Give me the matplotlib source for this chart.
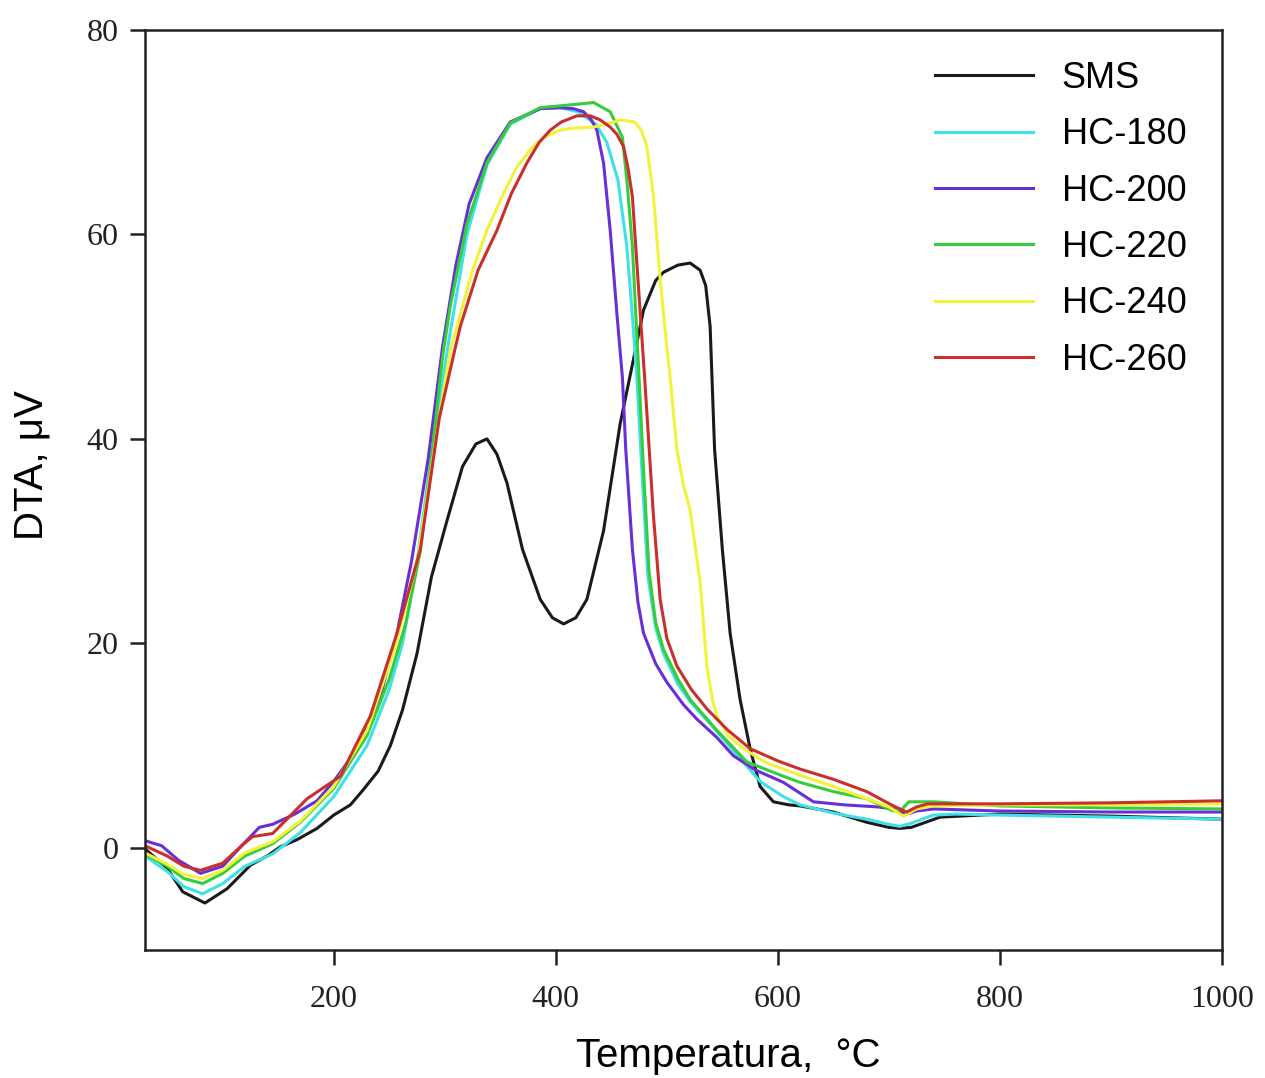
"""DTA curves of SMS and hydrochars (HC-180 ... HC-260)."""
import matplotlib
matplotlib.use("Agg")
import matplotlib.pyplot as plt

# SMS (black)
t_sms = [30, 50, 64, 84, 104, 125, 140, 152, 167, 185, 200, 215, 226, 240, 251, 262,
         275, 288, 302, 316, 328, 338, 347, 356, 370, 386, 397, 407, 418, 428, 443,
         458, 470, 479, 490, 497, 510, 521, 530, 535, 539, 543, 550, 557, 566, 575,
         584, 596, 610, 620, 650, 680, 700, 710, 720, 728, 746, 800, 900, 1000]
y_sms = [-0.1, -2.0, -4.3, -5.4, -4.0, -1.7, -0.8, 0.1, 0.8, 1.9, 3.2, 4.2, 5.6, 7.5,
         10.0, 13.5, 19.0, 26.5, 32.0, 37.3, 39.5, 40.0, 38.5, 35.7, 29.2, 24.3, 22.5,
         21.9, 22.5, 24.3, 31.0, 41.5, 47.8, 52.6, 55.5, 56.3, 57.0, 57.2, 56.5, 55.0,
         51.0, 39.0, 29.2, 21.0, 14.5, 9.7, 6.0, 4.5, 4.2, 4.1, 3.5, 2.5, 2.0, 1.9,
         2.0, 2.3, 3.0, 3.3, 3.1, 2.8]

# HC-180 (cyan)
t_180 = [30, 50, 65, 82, 100, 120, 145, 170, 200, 230, 250, 262, 275, 290, 305, 320,
         338, 359, 386, 404, 420, 436, 446, 456, 464, 469, 473, 478, 483, 490, 497,
         510, 521, 540, 560, 584, 605, 620, 650, 680, 700, 710, 720, 740, 760, 800,
         900, 1000]
y_180 = [-0.8, -2.3, -3.8, -4.5, -3.5, -1.8, -0.6, 1.5, 5.0, 10.0, 15.5, 20.0, 28.0,
         40.0, 50.5, 60.0, 66.8, 70.8, 72.3, 72.4, 72.0, 70.8, 69.0, 65.3, 58.8, 52.0,
         46.0, 36.0, 26.5, 21.5, 19.0, 16.0, 14.3, 12.0, 9.5, 6.5, 5.0, 4.2, 3.4, 2.8,
         2.3, 2.1, 2.4, 3.2, 3.3, 3.2, 3.0, 2.8]

# HC-200 (purple)
t_200 = [30, 45, 60, 80, 100, 118, 133, 145, 165, 185, 200, 220, 240, 257, 270, 285,
         298, 310, 322, 338, 359, 386, 404, 416, 425, 432, 437, 443, 449, 455, 460,
         463, 469, 474, 479, 490, 500, 515, 527, 545, 560, 580, 605, 632, 660, 690,
         705, 716, 725, 740, 800, 900, 1000]
y_200 = [0.7, 0.2, -1.2, -2.5, -1.8, 0.3, 2.0, 2.3, 3.3, 4.6, 6.5, 9.5, 14.0, 21.0,
         28.0, 38.0, 49.0, 57.0, 63.0, 67.5, 71.0, 72.3, 72.4, 72.3, 72.0, 71.2, 70.2,
         67.0, 60.4, 52.3, 46.0, 39.0, 29.2, 24.0, 21.0, 18.0, 16.2, 14.0, 12.6, 10.8,
         9.0, 7.6, 6.4, 4.5, 4.2, 4.0, 3.8, 3.3, 3.6, 3.8, 3.6, 3.5, 3.5]

# HC-220 (green)
t_220 = [30, 50, 65, 82, 100, 120, 145, 170, 200, 230, 250, 265, 278, 290, 298, 305,
         320, 338, 359, 386, 416, 434, 449, 460, 464, 469, 472, 475, 479, 484, 490,
         497, 510, 521, 545, 572, 605, 620, 650, 680, 704, 712, 718, 740, 800, 900,
         1000]
y_220 = [-0.6, -1.8, -3.0, -3.5, -2.5, -0.8, 0.4, 2.5, 5.8, 11.0, 16.5, 22.0, 29.0,
         40.0, 48.0, 53.0, 61.0, 67.0, 70.9, 72.4, 72.7, 72.9, 72.0, 69.5, 65.3, 58.8,
         52.3, 46.0, 37.0, 27.0, 22.0, 19.4, 16.5, 14.5, 11.5, 8.4, 7.0, 6.4, 5.5, 4.8,
         3.6, 3.8, 4.5, 4.5, 4.1, 3.9, 3.8]

# HC-240 (yellow)
t_240 = [30, 50, 65, 82, 100, 120, 145, 170, 200, 230, 255, 276, 292, 305, 311, 325,
         338, 352, 365, 378, 389, 404, 416, 434, 446, 458, 471, 477, 482, 488, 494,
         500, 503, 509, 515, 521, 530, 536, 541, 545, 555, 569, 590, 620, 650, 680,
         700, 713, 725, 740, 800, 900, 1000]
y_240 = [-0.5, -1.6, -2.6, -3.0, -2.2, -0.5, 0.6, 2.6, 6.0, 11.5, 19.5, 28.5, 40.0,
         48.7, 51.0, 56.5, 60.4, 63.8, 66.6, 68.4, 69.5, 70.2, 70.4, 70.5, 70.8, 71.2,
         71.0, 70.2, 68.6, 63.7, 55.6, 49.0, 46.0, 39.0, 35.5, 33.0, 26.0, 17.8, 14.5,
         12.9, 11.0, 9.7, 8.3, 7.1, 6.0, 4.8, 4.0, 3.1, 3.8, 4.1, 4.2, 4.2, 4.3]

# HC-260 (red)
t_260 = [30, 50, 65, 80, 100, 118, 127, 145, 176, 206, 233, 257, 278, 295, 309, 314,
         330, 347, 360, 374, 385, 395, 405, 419, 431, 440, 449, 455, 461, 465, 469,
         474, 480, 488, 494, 500, 509, 522, 536, 555, 575, 600, 620, 650, 680, 704,
         716, 725, 735, 800, 900, 1000]
y_260 = [0.2, -0.8, -1.8, -2.2, -1.5, 0.3, 1.1, 1.4, 4.8, 7.0, 12.9, 21.0, 29.2, 42.0,
         48.7, 51.0, 56.5, 60.4, 64.0, 67.0, 69.0, 70.2, 71.0, 71.6, 71.6, 71.2, 70.5,
         69.8, 68.6, 66.5, 63.7, 55.6, 46.0, 32.4, 24.3, 20.5, 17.8, 15.5, 13.6, 11.5,
         9.7, 8.5, 7.7, 6.7, 5.5, 4.1, 3.5, 4.0, 4.3, 4.3, 4.4, 4.6]

series = [
    ("SMS", t_sms, y_sms, "#1a1a1a"),
    ("HC-180", t_180, y_180, "#3fe0e8"),
    ("HC-200", t_200, y_200, "#6a2ed6"),
    ("HC-220", t_220, y_220, "#36cc3a"),
    ("HC-240", t_240, y_240, "#f2f23a"),
    ("HC-260", t_260, y_260, "#c9302c"),
]

fig = plt.figure(figsize=(12.65, 10.78), dpi=100)
ax = fig.add_axes([0.1146, 0.1187, 0.8514, 0.8535])

for name, t, y, c in series:
    ax.plot(t, y, color=c, lw=2.2, label=name)

ax.set_xlim(30, 1000)
ax.set_ylim(-10, 80)
ax.set_xticks([200, 400, 600, 800, 1000])
ax.set_yticks([0, 20, 40, 60, 80])

for s in ax.spines.values():
    s.set_linewidth(1.8)
    s.set_color("#222222")
ax.tick_params(direction="out", length=11, width=1.8, labelsize=23,
               colors="#222222")
ax.tick_params(axis="x", pad=14)
ax.tick_params(axis="y", pad=8)
for lab in ax.get_xticklabels() + ax.get_yticklabels():
    lab.set_family("Liberation Serif")

ax.set_xlabel("Temperatura,  °C", family="Liberation Sans", fontsize=29)
ax.set_ylabel("DTA, μV", family="Liberation Sans", fontsize=29)
ax.xaxis.set_label_coords(0.542, -0.094)
ax.yaxis.set_label_coords(-0.088, 0.527)

ax.legend(loc="upper right", bbox_to_anchor=(0.9805, 0.982), borderaxespad=0,
          frameon=False, prop={"family": "Liberation Sans", "size": 26},
          handlelength=2.71, handletextpad=0.8, labelspacing=0.59)

fig.savefig("out.png", dpi=100)
